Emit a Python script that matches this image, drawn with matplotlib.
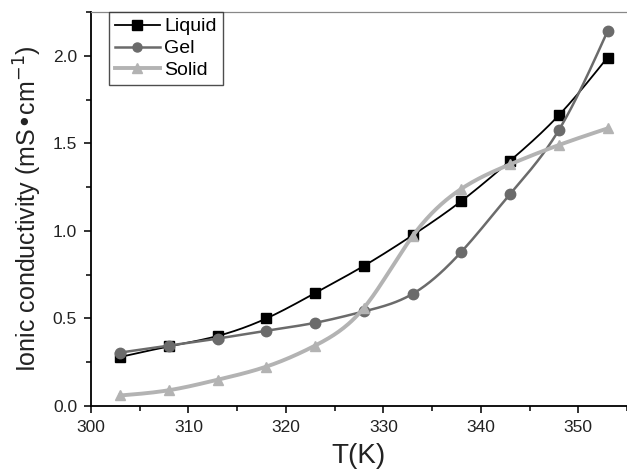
import numpy as np
import matplotlib
matplotlib.use("Agg")
from matplotlib import pyplot as plt
from matplotlib.ticker import MultipleLocator

# temperatures (K) and conductivities (mS/cm)
temps = [303, 308, 313, 318, 323, 328, 333, 338, 343, 348, 353]
liquid = [0.28, 0.34, 0.40, 0.50, 0.645, 0.80, 0.975, 1.17, 1.40, 1.66, 1.99]
gel = [0.305, 0.345, 0.385, 0.43, 0.475, 0.54, 0.64, 0.88, 1.21, 1.575, 2.14]
solid = [0.06, 0.09, 0.15, 0.225, 0.345, 0.56, 0.97, 1.24, 1.38, 1.49, 1.585]

labels = ['Liquid', 'Gel', 'Solid']
colors = ['#000000', '#6b6b6b', '#b3b3b3']
markers = ['s', 'o', '^']
widths = [1.3, 1.8, 2.8]


def spline(x, y, n=300):
    # natural cubic spline, only for drawing the smooth connecting line
    x = np.asarray(x, float)
    y = np.asarray(y, float)
    h = np.diff(x)
    m = len(x)
    A = np.zeros((m, m))
    b = np.zeros(m)
    A[0, 0] = A[-1, -1] = 1
    for i in range(1, m - 1):
        A[i, i - 1] = h[i - 1]
        A[i, i] = 2 * (h[i - 1] + h[i])
        A[i, i + 1] = h[i]
        b[i] = 3 * ((y[i + 1] - y[i]) / h[i] - (y[i] - y[i - 1]) / h[i - 1])
    c = np.linalg.solve(A, b)
    xs = np.linspace(x[0], x[-1], n)
    idx = np.clip(np.searchsorted(x, xs) - 1, 0, m - 2)
    dx = xs - x[idx]
    bb = (y[idx + 1] - y[idx]) / h[idx] - h[idx] * (2 * c[idx] + c[idx + 1]) / 3
    dd = (c[idx + 1] - c[idx]) / (3 * h[idx])
    ys = y[idx] + bb * dx + c[idx] * dx ** 2 + dd * dx ** 3
    return xs, ys


plt.rcParams['font.family'] = ['Liberation Sans', 'DejaVu Sans']

fig = plt.figure(figsize=(6.27, 4.74), dpi=100)
ax = fig.add_axes([0.1451, 0.1435, 0.8549, 0.8312])

series = [liquid, gel, solid]
for vals, lab, col, mk, lw in zip(series, labels, colors, markers, widths):
    xs, ys = spline(temps, vals)
    ax.plot(xs, ys, color=col, lw=lw)
    ax.plot(temps, vals, ls='none', marker=mk, color=col, ms=7.5)
    # legend proxy
    ax.plot([], [], color=col, lw=lw, marker=mk, ms=6.5, label=lab)

ax.set_xlim(300, 355)
ax.set_ylim(0, 2.25)
ax.xaxis.set_major_locator(MultipleLocator(10))
ax.xaxis.set_minor_locator(MultipleLocator(5))
ax.yaxis.set_major_locator(MultipleLocator(0.5))
ax.yaxis.set_minor_locator(MultipleLocator(0.25))
ax.yaxis.set_major_formatter(matplotlib.ticker.FormatStrFormatter('%.1f'))
ax.tick_params(which='major', direction='out', length=5, width=1.3, labelsize=12.5,
               colors='#222222', pad=5)
ax.tick_params(which='minor', direction='out', length=3.5, width=1.1)

ax.spines['right'].set_visible(False)
ax.spines['top'].set_color('#888888')
ax.spines['top'].set_linewidth(0.9)
ax.spines['left'].set_linewidth(1.3)
ax.spines['bottom'].set_linewidth(1.3)

ax.set_xlabel('T(K)', fontsize=20, color='#222222', labelpad=6)
ax.set_ylabel('Ionic conductivity (mS\u2022cm$^{-1}$)', fontsize=18, color='#222222', labelpad=6)

leg = ax.legend(loc='upper left', bbox_to_anchor=(0.0336, 1.0), fontsize=14,
                frameon=True, fancybox=False, handlelength=2.3, handletextpad=0.25,
                borderpad=0.3, labelspacing=0.22, borderaxespad=0)
leg.get_frame().set_edgecolor('#222222')
leg.get_frame().set_linewidth(1.0)

fig.savefig('out.png', dpi=100)
